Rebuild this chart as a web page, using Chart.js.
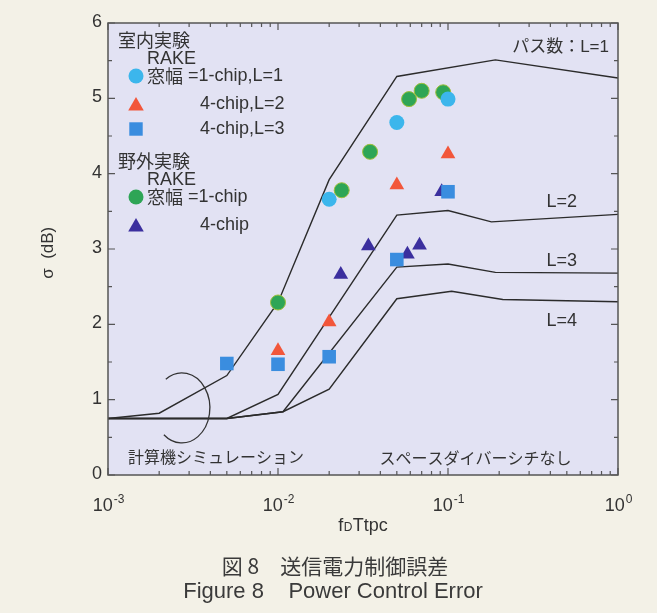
<!DOCTYPE html>
<html>
<head>
<meta charset="utf-8">
<title>Power Control Error</title>
<script src="https://cdn.jsdelivr.net/npm/chart.js@4/dist/chart.umd.min.js"></script>
<style>
  html, body { margin: 0; padding: 0; background: #f3f1e7; }
  canvas { display: block; }
</style>
</head>
<body>
<canvas id="chart" width="657" height="613"></canvas>
<script>
// ---- axis ticks ----
const xDecades = [0.001, 0.01, 0.1, 1];
const xDecadeExp = ['-3', '-2', '-1', '0'];
const yTicks = [0, 1, 2, 3, 4, 5, 6];

// ---- computer simulation (no space diversity), number of paths L ----
const simL1x = [0.001, 0.002, 0.005, 0.01, 0.02, 0.05, 0.19, 1];
const simL1y = [0.75, 0.82, 1.32, 2.29, 3.92, 5.29, 5.51, 5.27];
const simL2x = [0.001, 0.005, 0.01, 0.05, 0.1, 0.18, 1];
const simL2y = [0.75, 0.75, 1.07, 3.45, 3.51, 3.36, 3.46];
const simL3x = [0.001, 0.005, 0.0107, 0.05, 0.1, 0.19, 1];
const simL3y = [0.75, 0.75, 0.84, 2.76, 2.80, 2.69, 2.68];
const simL4x = [0.001, 0.005, 0.0107, 0.02, 0.05, 0.105, 0.21, 1];
const simL4y = [0.75, 0.75, 0.84, 1.14, 2.34, 2.44, 2.33, 2.30];

// ---- indoor experiment (RAKE window) ----
const indoor1chipL1x = [0.02, 0.05, 0.1];
const indoor1chipL1y = [3.66, 4.68, 4.99];
const indoor4chipL2x = [0.01, 0.02, 0.05, 0.1];
const indoor4chipL2y = [1.65, 2.03, 3.85, 4.26];
const indoor4chipL3x = [0.005, 0.01, 0.02, 0.05, 0.1];
const indoor4chipL3y = [1.48, 1.47, 1.57, 2.86, 3.76];

// ---- outdoor experiment (RAKE window) ----
const outdoor1chipx = [0.01, 0.0237, 0.0348, 0.059, 0.070, 0.0937];
const outdoor1chipy = [2.29, 3.78, 4.29, 4.99, 5.10, 5.08];
const outdoor4chipx = [0.0234, 0.034, 0.0577, 0.068, 0.0918];
const outdoor4chipy = [2.66, 3.04, 2.93, 3.05, 3.76];

const pts = (xs, ys) => xs.map((x, i) => ({ x: x, y: ys[i] }));

const LINE = '#2b2b2b';
const TEXT = '#333333';
const LATIN = "'Liberation Sans', Arial, 'Noto Sans CJK JP', sans-serif";
const CJK = "'Noto Sans CJK JP', 'Liberation Sans', sans-serif";

const C_L1 = '#3cb6ec';
const C_L2 = '#f2563a';
const C_L3 = '#3a8ddf';
const C_OUT1 = '#2ea556';
const C_OUT4 = '#3b2f9e';

function simLine(label, xs, ys) {
  return {
    label: label, data: pts(xs, ys), showLine: true, fill: false,
    borderColor: LINE, borderWidth: 1.4, pointRadius: 0, order: 10
  };
}
function markers(label, xs, ys, style, radius, color, border) {
  return {
    label: label, data: pts(xs, ys), showLine: false,
    pointStyle: style, pointRadius: radius, pointHoverRadius: radius,
    backgroundColor: color, borderColor: border || color, borderWidth: border ? 1 : 0,
    order: 1
  };
}

const datasets = [
  markers('室内 1-chip,L=1', indoor1chipL1x, indoor1chipL1y, 'circle', 7.5, C_L1),
  markers('野外 1-chip', outdoor1chipx, outdoor1chipy, 'circle', 7.5, C_OUT1, '#9fbf3a'),
  markers('室内 4-chip,L=2', indoor4chipL2x, indoor4chipL2y, 'triangle', 8.5, C_L2),
  markers('室内 4-chip,L=3', indoor4chipL3x, indoor4chipL3y, 'rect', 9.6, C_L3),
  markers('野外 4-chip', outdoor4chipx, outdoor4chipy, 'triangle', 8.5, C_OUT4),
  simLine('L=1', simL1x, simL1y),
  simLine('L=2', simL2x, simL2y),
  simLine('L=3', simL3x, simL3y),
  simLine('L=4', simL4x, simL4y)
];

function marker(ctx, style, r, color, x, y) {
  ctx.save();
  ctx.fillStyle = color;
  ctx.beginPath();
  if (style === 'circle') {
    ctx.arc(x, y, r, 0, Math.PI * 2);
  } else if (style === 'triangle') {
    const w = r * Math.sqrt(3) / 2;
    ctx.moveTo(x, y - r);
    ctx.lineTo(x + w, y + r / 2);
    ctx.lineTo(x - w, y + r / 2);
    ctx.closePath();
  } else {
    const s = r * Math.SQRT1_2;
    ctx.rect(x - s, y - s, 2 * s, 2 * s);
  }
  ctx.fill();
  ctx.restore();
}

const decor = {
  id: 'decor',
  beforeDraw(chart) {
    const { ctx, chartArea: a } = chart;
    ctx.save();
    ctx.fillStyle = '#f3f1e7';
    ctx.fillRect(0, 0, chart.width, chart.height);
    ctx.fillStyle = '#e2e2f3';
    ctx.fillRect(a.left, a.top, a.right - a.left, a.bottom - a.top);
    ctx.restore();
  },
  afterDraw(chart) {
    const { ctx, chartArea: a } = chart;
    const xs = chart.scales.x, ys = chart.scales.y;
    ctx.save();

    // frame
    ctx.strokeStyle = '#555';
    ctx.lineWidth = 1.5;
    ctx.strokeRect(a.left, a.top, a.right - a.left, a.bottom - a.top);

    // inward tick marks
    ctx.lineWidth = 1.2;
    ctx.beginPath();
    for (let v = 0; v <= 6.001; v += 0.5) {
      const py = ys.getPixelForValue(v);
      const len = Math.abs(v - Math.round(v)) < 1e-6 ? 7 : 4;
      ctx.moveTo(a.left, py); ctx.lineTo(a.left + len, py);
      ctx.moveTo(a.right, py); ctx.lineTo(a.right - len, py);
    }
    for (let d = 0; d < xDecades.length; d++) {
      for (let m = 1; m <= 9; m++) {
        const v = xDecades[d] * m;
        if (v > 1.0001) break;
        const px = xs.getPixelForValue(v);
        const len = m === 1 ? 7 : 4;
        ctx.moveTo(px, a.bottom); ctx.lineTo(px, a.bottom - len);
        ctx.moveTo(px, a.top); ctx.lineTo(px, a.top + len);
      }
    }
    ctx.stroke();

    ctx.fillStyle = TEXT;
    ctx.textBaseline = 'middle';

    // y tick labels
    ctx.font = '18px ' + LATIN;
    ctx.textAlign = 'right';
    yTicks.forEach(v => ctx.fillText(String(v), a.left - 6, ys.getPixelForValue(v) - 1));

    // x tick labels: 10 with superscript exponent
    xDecades.forEach((v, i) => {
      const px = xs.getPixelForValue(v);
      ctx.font = '18px ' + LATIN;
      const wBase = ctx.measureText('10').width;
      ctx.font = '12px ' + LATIN;
      const wExp = ctx.measureText(xDecadeExp[i]).width;
      const x0 = px - (wBase + wExp) / 2;
      ctx.textAlign = 'left';
      ctx.font = '18px ' + LATIN;
      ctx.fillText('10', x0, a.bottom + 31);
      ctx.font = '12px ' + LATIN;
      ctx.fillText(xDecadeExp[i], x0 + wBase + 1, a.bottom + 25);
    });

    // x axis title: f_D T tpc
    {
      const cx = (a.left + a.right) / 2, y = a.bottom + 51;
      ctx.font = '18px ' + LATIN; const w1 = ctx.measureText('f').width;
      ctx.font = '12px ' + LATIN; const w2 = ctx.measureText('D').width;
      ctx.font = '18px ' + LATIN; const w3 = ctx.measureText('Ttpc').width;
      let x0 = cx - (w1 + w2 + w3 + 1) / 2;
      ctx.textAlign = 'left';
      ctx.font = '18px ' + LATIN; ctx.fillText('f', x0, y);
      ctx.font = '12px ' + LATIN; ctx.fillText('D', x0 + w1 + 0.5, y + 2);
      ctx.font = '18px ' + LATIN; ctx.fillText('Ttpc', x0 + w1 + w2 + 1, y);
    }

    // y axis title
    ctx.save();
    ctx.translate(48, ys.getPixelForValue(2.95));
    ctx.rotate(-Math.PI / 2);
    ctx.textAlign = 'center';
    ctx.font = '17px ' + LATIN;
    ctx.fillText('σ  (dB)', 0, 0);
    ctx.restore();

    // curve labels
    ctx.textAlign = 'right';
    ctx.font = '17px ' + LATIN;
    ctx.fillText('パス数：L=1', a.right - 9, ys.getPixelForValue(5.68));
    ctx.font = '18px ' + LATIN;
    ctx.fillText('L=2', a.right - 41, ys.getPixelForValue(3.63));
    ctx.fillText('L=3', a.right - 41, ys.getPixelForValue(2.84));
    ctx.fillText('L=4', a.right - 41, ys.getPixelForValue(2.05));

    ctx.textAlign = 'left';
    ctx.font = '16px ' + CJK;
    ctx.fillText('計算機シミュレーション', a.left + 20, ys.getPixelForValue(0.24));
    ctx.fillText('スペースダイバーシチなし', xs.getPixelForValue(0.0395), ys.getPixelForValue(0.23));

    // bracket around the simulation curves
    ctx.strokeStyle = '#333';
    ctx.lineWidth = 1.3;
    ctx.beginPath();
    ctx.ellipse(xs.getPixelForValue(0.00272), ys.getPixelForValue(0.89), 28, 35, 0,
      -125 * Math.PI / 180, 130 * Math.PI / 180);
    ctx.stroke();

    // key
    const L = a.left, T = a.top;
    ctx.fillStyle = TEXT;
    ctx.textAlign = 'left';
    ctx.font = '18px ' + CJK;
    ctx.fillText('室内実験', L + 10, T + 17);
    ctx.font = '18px ' + LATIN;
    ctx.fillText('RAKE', L + 39, T + 36);
    marker(ctx, 'circle', 7.5, C_L1, L + 28, T + 53);
    ctx.fillStyle = TEXT;
    ctx.font = '18px ' + CJK;
    ctx.fillText('窓幅', L + 39, T + 53);
    ctx.font = '18px ' + LATIN;
    ctx.fillText('=1-chip,L=1', L + 80, T + 53);
    marker(ctx, 'triangle', 9, C_L2, L + 28, T + 83);
    ctx.fillStyle = TEXT;
    ctx.fillText('4-chip,L=2', L + 92, T + 81);
    marker(ctx, 'rect', 9.5, C_L3, L + 28, T + 106);
    ctx.fillStyle = TEXT;
    ctx.fillText('4-chip,L=3', L + 92, T + 106);
    ctx.font = '18px ' + CJK;
    ctx.fillText('野外実験', L + 10, T + 138);
    ctx.font = '18px ' + LATIN;
    ctx.fillText('RAKE', L + 39, T + 157);
    marker(ctx, 'circle', 7.5, C_OUT1, L + 28, T + 174);
    ctx.fillStyle = TEXT;
    ctx.font = '18px ' + CJK;
    ctx.fillText('窓幅', L + 39, T + 174);
    ctx.font = '18px ' + LATIN;
    ctx.fillText('=1-chip', L + 80, T + 174);
    marker(ctx, 'triangle', 9, C_OUT4, L + 28, T + 204);
    ctx.fillStyle = TEXT;
    ctx.fillText('4-chip', L + 92, T + 202);

    // figure caption
    ctx.textAlign = 'center';
    ctx.fillStyle = '#3a3a3a';
    ctx.font = '21px ' + CJK;
    ctx.fillText('図 8　送信電力制御誤差', 335, 566);
    ctx.font = '22px ' + LATIN;
    ctx.fillText('Figure 8    Power Control Error', 333, 592);

    ctx.restore();
  }
};

new Chart(document.getElementById('chart'), {
  type: 'scatter',
  data: { datasets: datasets },
  options: {
    responsive: false,
    animation: false,
    devicePixelRatio: 1,
    layout: { padding: { left: 108, right: 39, top: 23, bottom: 138 } },
    plugins: { legend: { display: false }, tooltip: { enabled: false } },
    scales: {
      x: { type: 'logarithmic', min: 0.001, max: 1, display: false },
      y: { type: 'linear', min: 0, max: 6, display: false }
    }
  },
  plugins: [decor]
});
</script>
</body>
</html>
